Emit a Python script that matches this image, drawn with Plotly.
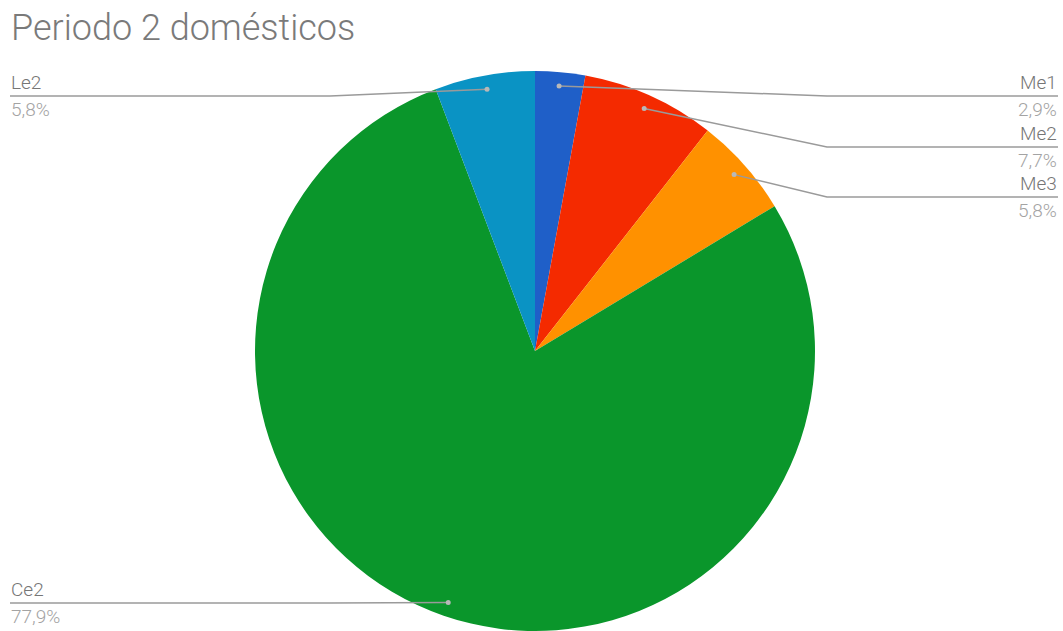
import math
import plotly.graph_objects as go

# ---- data ----
labels = ["Me1", "Me2", "Me3", "Ce2", "Le2"]
counts = [3, 8, 6, 81, 6]
colors = ["#1f5fc8", "#f42a00", "#ff9100", "#0a962b", "#0a93c4"]
title_text = "Periodo 2 domésticos"

# ---- layout constants (pixels) ----
W, H = 1063, 631
CX, CY, R = 535, 351, 280
DOT_R = 0.95 * R
label_side = ["right", "right", "right", "left", "left"]
label_line_y = [96, 147, 197, 603, 96]
ELBOW_RIGHT, ELBOW_LEFT = 827, 330
EDGE_RIGHT, EDGE_LEFT = 1058, 10


def px(x):
    return x / W


def py(y):
    return 1 - y / H


total = sum(counts)
fig = go.Figure(go.Pie(
    labels=labels, values=counts, sort=False, direction="clockwise", rotation=0,
    marker=dict(colors=colors, line=dict(width=0)),
    textinfo="none", hoverinfo="skip", showlegend=False,
    domain=dict(x=[px(CX - R), px(CX + R)], y=[py(CY + R), py(CY - R)]),
))

shapes, annotations = [], []
cum = 0
for lab, c, side, ly in zip(labels, counts, label_side, label_line_y):
    mid = (cum + c / 2) / total * 2 * math.pi
    cum += c
    dx = CX + DOT_R * math.sin(mid)
    dy = CY - DOT_R * math.cos(mid)
    if side == "right":
        xs = [dx, ELBOW_RIGHT, EDGE_RIGHT]
        anchor, ex = "right", EDGE_RIGHT
    else:
        xs = [dx, ELBOW_LEFT, EDGE_LEFT]
        anchor, ex = "left", EDGE_LEFT
    ys = [dy, ly, ly]
    path = "M {} {} L {} {} L {} {}".format(px(xs[0]), py(ys[0]), px(xs[1]), py(ys[1]), px(xs[2]), py(ys[2]))
    shapes.append(dict(type="path", xref="paper", yref="paper", path=path,
                       line=dict(color="#9a9a9a", width=1.5)))
    shapes.append(dict(type="circle", xref="paper", yref="paper",
                       x0=px(dx - 2.5), x1=px(dx + 2.5), y0=py(dy + 2.5), y1=py(dy - 2.5),
                       fillcolor="#b8b8b8", line=dict(width=0)))
    pct = "{:.1f}%".format(c / total * 100).replace(".", ",")
    annotations.append(dict(text=lab, x=px(ex), y=py(ly - 1), xref="paper", yref="paper",
                            xanchor=anchor, yanchor="bottom", showarrow=False,
                            font=dict(family="Roboto", size=19, color="#767676", weight=300), borderpad=0))
    annotations.append(dict(text=pct, x=px(ex), y=py(ly + 1), xref="paper", yref="paper",
                            xanchor=anchor, yanchor="top", showarrow=False,
                            font=dict(family="Roboto", size=19, color="#a3a3a3", weight=300), borderpad=0))

annotations.append(dict(text=title_text, x=px(10), y=py(28), xref="paper", yref="paper",
                        xanchor="left", yanchor="middle", showarrow=False,
                        font=dict(family="Roboto", size=36, color="#7a7a7a", weight=300), borderpad=0))

fig.update_layout(
    width=W, height=H, margin=dict(l=0, r=0, t=0, b=0),
    paper_bgcolor="white", plot_bgcolor="white",
    shapes=shapes, annotations=annotations,
)
fig.write_html("out.html")
